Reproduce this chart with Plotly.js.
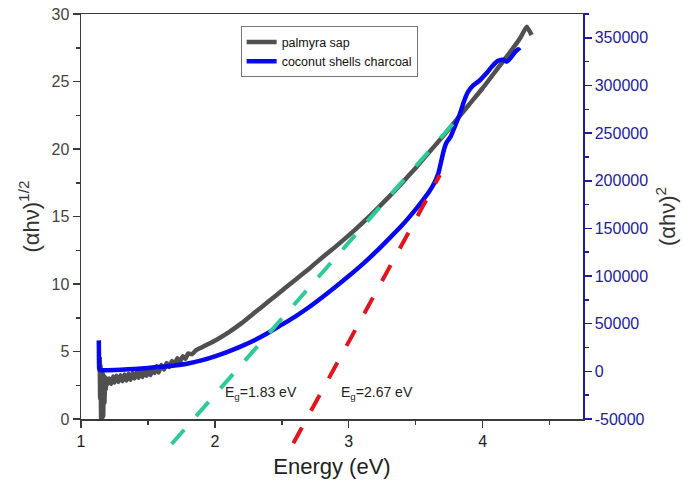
<!DOCTYPE html>
<html>
<head>
<meta charset="utf-8">
<script src="https://cdn.plot.ly/plotly-3.0.1.min.js"></script>
<style>html,body{margin:0;padding:0;background:#fff;}#chart{width:683px;height:485px;}</style>
</head>
<body>
<div id="chart"></div>
<script>
// ---- data ----
const energyPalmyra = [1.14,1.143,1.146,1.15,1.154,1.158,1.162,1.166,1.17,1.175,1.18,1.185,1.19,1.2,1.21,1.225,1.24,1.25,1.265,1.28,1.295,1.31,1.325,1.34,1.355,1.37,1.385,1.4,1.415,1.43,1.445,1.46,1.475,1.49,1.505,1.52,1.535,1.55,1.565,1.58,1.6,1.62,1.64,1.66,1.68,1.7,1.72,1.74,1.76,1.78,1.8,1.83,1.86,1.9,1.95,2.0,2.1,2.2,2.3,2.4,2.5,2.6,2.7,2.8,2.9,3.0,3.1,3.2,3.3,3.4,3.5,3.6,3.7,3.8,3.9,4.0,4.1,4.2,4.28,4.33,4.366];
const palmyraSap = [4.6,1.5,4.0,0,3.6,0,3.4,0.2,3.2,1.2,3.1,2.2,3.0,2.6,3.0,2.6,3.15,2.7,3.2,2.75,3.25,2.8,3.3,2.85,3.35,2.9,3.4,3.0,3.45,3.05,3.55,3.1,3.6,3.2,3.65,3.25,3.75,3.4,3.9,3.45,4.0,3.65,4.15,3.85,4.3,4.05,4.5,4.25,4.65,4.45,4.85,4.8,5.1,5.3,5.55,5.8,6.4,7.1,7.9,8.7,9.5,10.3,11.1,11.95,12.75,13.6,14.5,15.45,16.45,17.5,18.6,19.75,20.9,22.1,23.3,24.5,25.8,27.1,28.2,29.06,28.44];

const energyCoconut = [1.133,1.134,1.136,1.14,1.16,1.2,1.3,1.4,1.5,1.6,1.7,1.8,1.9,2.0,2.1,2.2,2.3,2.4,2.5,2.6,2.7,2.8,2.9,3.0,3.1,3.2,3.3,3.4,3.5,3.55,3.6,3.64,3.67,3.69,3.71,3.73,3.76,3.79,3.83,3.86,3.89,3.93,3.98,4.03,4.07,4.11,4.15,4.18,4.21,4.24,4.266,4.278];
const coconutCharcoal = [32500,20000,3000,1500,1200,1200,1800,2600,3600,4800,6200,8200,11500,15800,20800,26500,33000,40500,49000,57500,67000,77500,88500,100000,112000,125000,139000,153500,170000,179000,188500,198000,208000,220000,232000,240000,246000,256000,270000,283000,293000,300000,305500,313000,320000,325500,327000,325000,329000,334500,338000,336500];

const greenTangentX = [1.677, 3.793];
const greenTangentY = [-1.85, 22.02];
const redTangentX = [2.586, 3.681];
const redTangentY = [-1.8, 18.07];

const leftTicks = [0,5,10,15,20,25,30];
const rightTicks = [-50000,0,50000,100000,150000,200000,250000,300000,350000];
const xTicks = [1,2,3,4];

// ---- layout geometry ----
const W = 683, H = 485;
const mL = 81, mR = 100, mT = 14, mB = 30;
const plotH = H - mT - mB;
const axisBottomPx = 419;
const yDomLo = (H - mB - axisBottomPx) / plotH;
const pxPerUnit = (axisBottomPx - mT) / 30;
const y3Lo = -(H - mB - axisBottomPx) / pxPerUnit;

const axisGray = '#3a3a3a';
const navy = '#1c1c9c';
const font = 'Liberation Sans, Arial, sans-serif';

const traces = [
  {x: energyPalmyra, y: palmyraSap, type: 'scatter', mode: 'lines', name: 'palmyra sap',
   line: {color: '#505050', width: 4.5, simplify: false, shape: 'spline', smoothing: 0.4}, xaxis: 'x', yaxis: 'y'},
  {x: energyCoconut, y: coconutCharcoal, type: 'scatter', mode: 'lines', name: 'coconut shells charcoal',
   line: {color: '#0808f0', width: 4.5, simplify: false, shape: 'spline', smoothing: 0.5}, xaxis: 'x', yaxis: 'y2'},
  {x: greenTangentX, y: greenTangentY, type: 'scatter', mode: 'lines', showlegend: false,
   line: {color: '#2ecc94', width: 4, dash: '19px,18px'}, xaxis: 'x3', yaxis: 'y3'},
  {x: redTangentX, y: redTangentY, type: 'scatter', mode: 'lines', showlegend: false,
   line: {color: '#e3141e', width: 4, dash: '18px,19px'}, xaxis: 'x3', yaxis: 'y3'}
];

const layout = {
  width: W, height: H,
  margin: {l: mL, r: mR, t: mT, b: mB, pad: 0},
  paper_bgcolor: '#ffffff',
  plot_bgcolor: 'rgba(0,0,0,0)',
  font: {family: font, color: '#333'},
  showlegend: true,
  legend: {x: 0.318, y: 0.972, xanchor: 'left', yanchor: 'top',
           bgcolor: '#ffffff', bordercolor: '#777', borderwidth: 1,
           font: {size: 12.5, color: '#111', family: font}, tracegroupgap: 0, itemwidth: 30},
  xaxis: {domain: [0, 1], range: [1, 4.75], anchor: 'y',
          tickvals: xTicks, ticktext: xTicks.map(String),
          showline: true, linecolor: axisGray, linewidth: 1.5, mirror: true,
          ticks: 'outside', ticklen: 7, tickwidth: 1.5, tickcolor: axisGray,
          minor: {dtick: 0.5, tick0: 1, ticks: 'outside', ticklen: 4, tickcolor: axisGray},
          showgrid: false, zeroline: false,
          tickfont: {size: 16, color: '#222'},
          title: {text: 'Energy (eV)', font: {size: 22, color: '#222'}, standoff: 10}},
  yaxis: {domain: [yDomLo, 1], range: [0, 30], anchor: 'x',
          tickvals: leftTicks, ticktext: leftTicks.map(String),
          showline: true, linecolor: axisGray, linewidth: 1.5,
          ticks: 'outside', ticklen: 7, tickwidth: 1.5, tickcolor: axisGray,
          minor: {dtick: 2.5, tick0: 0, ticks: 'outside', ticklen: 4, tickcolor: axisGray},
          showgrid: false, zeroline: false,
          tickfont: {size: 16, color: '#444'},
          title: {text: '(αhν)<sup>1/2</sup>', font: {size: 22, color: '#333'}, standoff: 6}},
  yaxis2: {overlaying: 'y', side: 'right', anchor: 'x', range: [-50000, 375000],
           tickvals: rightTicks, ticktext: rightTicks.map(String),
           showline: true, linecolor: navy, linewidth: 1.5,
           ticks: 'outside', ticklen: 7, tickwidth: 1.5, tickcolor: navy,
           minor: {dtick: 25000, tick0: 0, ticks: 'outside', ticklen: 4, tickcolor: navy},
           showgrid: false, zeroline: false,
           tickfont: {size: 16, color: navy},
           title: {text: '(αhν)<sup>2</sup>', font: {size: 22, color: '#333'}, standoff: 12}},
  xaxis3: {domain: [0, 1], range: [1, 4.75], anchor: 'y3', visible: false, showgrid: false, zeroline: false},
  yaxis3: {domain: [0, 1], range: [y3Lo, 30], anchor: 'x3', visible: false, showgrid: false, zeroline: false},
  annotations: [
    {xref: 'x', yref: 'y', x: 2.343, y: 1.93, text: 'E<sub>g</sub>=1.83 eV', showarrow: false,
     font: {size: 14, color: '#222'}},
    {xref: 'x', yref: 'y', x: 3.209, y: 1.93, text: 'E<sub>g</sub>=2.67 eV', showarrow: false,
     font: {size: 14, color: '#222'}}
  ]
};

Plotly.newPlot('chart', traces, layout, {displayModeBar: false, staticPlot: true});
</script>
</body>
</html>
